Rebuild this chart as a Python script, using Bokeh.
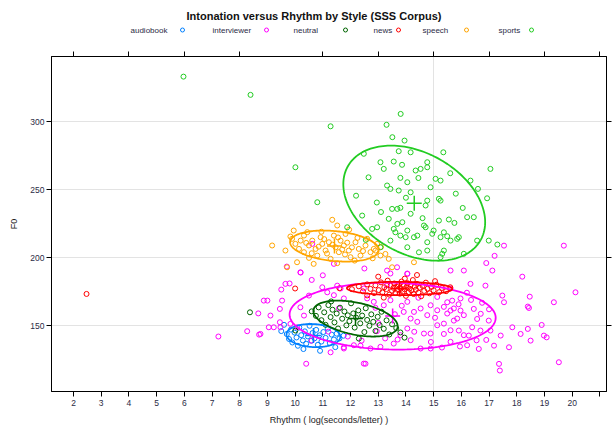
import numpy as np
from bokeh.plotting import figure
from bokeh.layouts import column
from bokeh.models import Range1d, FixedTicker, LinearAxis
from bokeh.core.properties import value
from bokeh.embed import file_html
from bokeh.resources import INLINE

# ---------------- data ----------------
groups = ["audiobook", "interviewer", "neutral", "news", "speech", "sports"]
colors = ["#0080ff", "#ff00ff", "#006400", "#ff0000", "#ffa500", "#22cc22"]

audiobook_pts = [
    (9.70, 143.8), (9.78, 140.2), (9.85, 147.1), (9.90, 137.6), (9.98, 144.9), (10.05, 141.3),
    (10.10, 135.2), (10.15, 148.6), (10.22, 143.0), (10.28, 139.1), (10.35, 145.8), (10.40, 136.7),
    (10.46, 142.1), (10.52, 149.9), (10.58, 138.9), (10.63, 144.6), (10.70, 140.7), (10.76, 146.9),
    (10.82, 135.9), (10.88, 142.9), (10.95, 138.3), (11.02, 145.3), (11.10, 141.0), (11.18, 147.8),
    (11.25, 137.2), (11.32, 143.4), (11.40, 139.8), (11.50, 144.1), (11.60, 140.6), (11.75, 142.6),
    (9.60, 150.6), (10.30, 132.8), (10.90, 131.5), (11.45, 134.2), (9.50, 146.0),
]

interviewer_pts = [
    (7.23, 142.0), (8.27, 145.9), (8.70, 143.4), (8.67, 159.0), (9.00, 168.4), (9.50, 176.5),
    (9.70, 193.4), (10.20, 189.0), (9.80, 181.0), (9.45, 162.3), (9.45, 152.5), (9.23, 148.8),
    (9.05, 148.8), (10.40, 122.0), (12.54, 122.0),
    (16.09, 190.5), (17.12, 190.5), (16.33, 180.7), (16.87, 179.4), (17.48, 172.1), (17.54, 167.2),
    (18.47, 171.3), (18.40, 164.0), (18.44, 163.0), (19.34, 167.2), (20.12, 174.5), (19.70, 208.8),
    (17.54, 208.8), (17.84, 148.8), (18.14, 143.9), (18.40, 147.6), (18.50, 139.0), (18.98, 142.7),
    (19.08, 141.4), (17.42, 142.7), (17.18, 135.3), (17.72, 134.1), (16.63, 132.9), (17.36, 121.9),
    (17.39, 117.0), (19.52, 123.1),
    (15.49, 167.2), (15.67, 168.4), (15.97, 161.1), (16.45, 162.3), (16.57, 154.9), (16.39, 148.8),
    (16.69, 146.4), (16.99, 153.7), (17.05, 146.4), (16.27, 142.7), (15.61, 161.1), (15.73, 153.7),
    (15.91, 146.4), (15.37, 143.9), (15.61, 190.5),
    (11.40, 172.4), (11.64, 177.3), (11.76, 170.0), (12.60, 170.0), (12.84, 167.5), (13.20, 165.0),
    (13.44, 168.7), (14.05, 167.5), (14.29, 160.1), (14.53, 162.6), (14.77, 157.7), (14.89, 165.0),
    (15.13, 161.3), (15.37, 163.8), (15.49, 158.9), (15.73, 162.6), (15.97, 170.0), (15.85, 155.2),
    (16.09, 157.7), (15.37, 151.5), (15.61, 146.6), (14.89, 144.2), (15.13, 150.3), (14.65, 144.2),
    (14.17, 139.3), (13.80, 143.0), (13.56, 136.8), (13.08, 134.4), (12.72, 133.2), (14.05, 147.9),
    (14.41, 152.8), (14.53, 133.2), (14.89, 133.2), (12.48, 122.1), (12.12, 135.6), (11.76, 133.2),
    (13.92, 160.1), (14.17, 155.2), (15.61, 138.1), (16.09, 143.0), (16.21, 135.6), (13.44, 188.3),
    (14.05, 188.3), (13.32, 179.7), (12.48, 177.3), (11.58, 162.6), (15.13, 171.1), (15.61, 177.3),
    (10.19, 189.2), (9.65, 180.7), (10.62, 210.1), (8.87, 168.4), (9.11, 157.4), (9.53, 168.4),
    (10.19, 163.5), (10.32, 157.4), (10.50, 172.1), (11.16, 174.5), (10.98, 178.2), (11.52, 179.4),
    (10.07, 148.8), (9.47, 148.8), (9.83, 151.3), (8.75, 143.9), (11.28, 130.4), (11.76, 134.1),
    (12.36, 135.3), (13.32, 190.5), (14.05, 188.0), (13.68, 192.9), (11.40, 195.4),
    (12.90, 163.1), (13.60, 158.4), (13.00, 152.0), (14.30, 145.5), (13.70, 139.8), (12.40, 139.0),
    (11.90, 142.0), (14.90, 138.0), (15.90, 165.7), (16.70, 158.7), (15.30, 133.9), (16.90, 139.5),
    (17.00, 162.0), (11.20, 145.6), (10.60, 139.0), (18.20, 186.0), (18.90, 150.5), (16.90, 196.0),
    (17.20, 201.3), (12.50, 192.0), (11.00, 187.0), (10.60, 183.6),
    (16.20, 174.2), (16.75, 166.8), (15.05, 155.8), (14.45, 170.5), (13.85, 164.6), (16.55, 139.2),
    (15.95, 134.7), (13.25, 140.6), (12.95, 145.9), (16.35, 168.9),
]

neutral_pts = [
    (10.60, 160.5), (10.75, 157.2), (10.85, 163.4), (10.95, 154.0), (11.05, 159.8), (11.10, 150.6),
    (11.20, 165.1), (11.28, 156.3), (11.35, 161.7), (11.42, 152.4), (11.50, 158.9), (11.55, 147.9),
    (11.62, 163.2), (11.70, 155.1), (11.78, 160.4), (11.85, 150.2), (11.90, 157.6), (11.96, 153.3),
    (12.02, 166.4), (12.10, 159.0), (12.15, 148.6), (12.20, 155.9), (12.28, 161.2), (12.35, 151.7),
    (12.42, 157.4), (12.50, 145.3), (12.55, 162.8), (12.60, 154.2), (12.68, 149.9), (12.75, 158.3),
    (12.82, 152.8), (12.90, 146.1), (12.98, 156.5), (13.05, 150.4), (13.12, 160.2), (13.20, 147.7),
    (13.30, 153.9), (13.40, 143.5), (13.50, 151.0), (13.65, 148.2), (13.80, 145.0), (13.95, 141.2),
    (10.01, 146.4), (8.37, 159.8), (11.30, 167.8), (12.30, 140.5),
]

news_pts = [
    (12.05, 176.8), (12.30, 178.9), (12.45, 175.2), (12.60, 180.3), (12.72, 177.0), (12.85, 173.9),
    (12.90, 179.6), (13.02, 176.1), (13.10, 181.8), (13.15, 174.4), (13.22, 178.2), (13.30, 176.9),
    (13.34, 183.1), (13.40, 172.8), (13.45, 179.4), (13.50, 175.6), (13.55, 177.8), (13.58, 181.0),
    (13.62, 174.1), (13.66, 178.8), (13.70, 176.3), (13.74, 180.2), (13.78, 173.5), (13.80, 177.6),
    (13.84, 182.4), (13.88, 175.0), (13.92, 179.1), (13.95, 176.8), (14.00, 171.9), (14.02, 178.3),
    (14.06, 181.2), (14.10, 174.7), (14.13, 177.2), (14.17, 179.9), (14.20, 175.9), (14.25, 183.5),
    (14.28, 173.2), (14.32, 178.6), (14.36, 176.4), (14.40, 180.7), (14.45, 174.3), (14.50, 177.9),
    (14.55, 171.6), (14.60, 179.3), (14.66, 175.5), (14.72, 181.6), (14.78, 177.1), (14.85, 173.8),
    (14.92, 178.5), (15.00, 176.0), (15.10, 180.1), (15.20, 174.6), (15.30, 177.7), (15.45, 175.3),
    (15.60, 178.2), (13.20, 170.6), (13.96, 184.6), (12.60, 172.2), (15.05, 182.7), (11.60, 177.5),
    (10.00, 177.3), (2.47, 173.3), (13.00, 186.0), (14.40, 187.2),
]

speech_pts = [
    (9.17, 208.9), (9.65, 205.2), (9.89, 213.8), (10.01, 210.1), (10.14, 206.4), (10.20, 212.5),
    (10.32, 216.2), (10.32, 204.0), (10.44, 218.7), (10.50, 208.9), (10.62, 212.5), (10.74, 206.4),
    (10.80, 201.5), (10.92, 215.0), (10.98, 210.1), (11.10, 205.2), (11.22, 211.3), (11.28, 199.1),
    (11.40, 216.2), (11.46, 207.6), (11.58, 204.0), (11.64, 212.5), (11.76, 208.9), (11.82, 217.4),
    (11.94, 205.2), (12.00, 200.3), (12.18, 211.3), (12.30, 206.4), (12.36, 201.5), (12.54, 208.9),
    (12.60, 213.8), (12.72, 204.0), (12.84, 206.4), (12.96, 210.1), (13.08, 201.5), (13.26, 202.7),
    (13.38, 199.1), (10.26, 225.3), (9.95, 219.9), (11.34, 227.8), (11.52, 223.6), (9.83, 215.5),
    (14.29, 196.6), (13.50, 192.9), (12.90, 205.2), (9.71, 192.9), (10.07, 196.6), (10.67, 195.4),
    (11.52, 195.9), (10.40, 210.8), (10.85, 208.0), (11.05, 213.6), (11.15, 203.0), (11.35, 209.5),
    (11.55, 214.8), (11.70, 206.0), (11.88, 211.0), (12.05, 207.5), (12.25, 214.5), (12.45, 204.8),
    (10.60, 203.2), (10.95, 219.0), (11.95, 220.5), (12.80, 199.5), (12.15, 197.8), (10.50, 199.8),
    (11.80, 202.3), (13.10, 207.8),
]

sports_pts = [
    (5.97, 333.0), (8.39, 319.6), (11.28, 296.5), (10.01, 266.4), (10.80, 240.7),
    (13.81, 305.6), (13.30, 297.6), (13.51, 288.5), (13.95, 286.0), (12.48, 276.3),
    (13.74, 278.2), (14.17, 277.4), (15.35, 277.4), (13.08, 270.1), (13.56, 270.6),
    (13.86, 268.2), (14.77, 270.1), (14.35, 264.0), (14.53, 265.2), (14.77, 266.4),
    (13.20, 265.2), (17.05, 265.2), (13.80, 258.6), (14.05, 255.4), (15.07, 257.9),
    (15.25, 256.6), (16.33, 256.6), (13.32, 253.0), (13.44, 250.5), (13.74, 249.3),
    (14.17, 248.0), (14.89, 251.7), (15.19, 243.2), (15.25, 241.9), (14.77, 241.9),
    (14.71, 238.3), (13.50, 235.8), (13.69, 235.8), (13.80, 236.6), (16.93, 243.6),
    (12.42, 230.9), (13.38, 228.5), (14.17, 232.2), (15.19, 227.2), (15.55, 228.0),
    (16.21, 229.7), (16.45, 229.7), (13.69, 224.8), (13.87, 226.0), (14.71, 222.3),
    (15.00, 219.9), (14.95, 217.5), (12.78, 221.1), (12.96, 222.3), (13.62, 218.6),
    (13.80, 216.2), (13.99, 215.0), (14.29, 215.0), (14.41, 216.2), (15.25, 215.0),
    (15.49, 215.7), (15.85, 213.8), (16.99, 212.5), (13.44, 212.5), (14.77, 211.3),
    (15.37, 205.2), (14.05, 207.6), (14.47, 203.9), (14.77, 205.2), (11.88, 222.3),
    (16.57, 212.5), (17.30, 209.6), (13.08, 207.6), (15.25, 200.3), (16.09, 202.8),
    (13.56, 221.1), (14.05, 219.9), (14.65, 223.6), (15.37, 218.6), (15.61, 212.5),
    (15.91, 215.0), (15.31, 202.8), (12.20, 245.5), (12.65, 259.0), (15.80, 247.0),
    (16.05, 236.5), (14.45, 258.5), (15.60, 262.0), (14.00, 244.0), (12.95, 240.5),
    (14.60, 229.0), (13.10, 233.5), (12.55, 213.0), (15.75, 225.5), (16.60, 250.5),
]

# data-ellipse parameters per group (centre, half-extent in x and y, correlation)
ell_cx = [10.66, 13.52, 12.18, 13.77, 11.42, 14.30]
ell_cy = [142.7, 157.0, 155.2, 177.3, 208.5, 240.0]
ell_ax = [0.97, 3.72, 1.52, 1.90, 1.60, 2.56]
ell_ay = [8.5, 24.6, 13.2, 4.9, 11.4, 42.3]
ell_r = [-0.10, -0.05, -0.42, -0.05, -0.25, -0.33]

x_ticks = list(range(2, 22))
x_tick_labels = [str(v) for v in range(2, 21)] + [""]
x_top_ticks = [2, 4, 6, 8, 11, 13, 15, 17, 19, 21]
y_ticks = [150, 200, 250, 300]

title_text = "Intonation versus Rhythm  by Style (SSS Corpus)"
x_label = "Rhythm ( log(seconds/letter) )"
y_label = "F0"

FONT = "Liberation Sans"
TICK_COL = "#2b2b45"
FRAME_L, FRAME_R = 51, 606      # panel frame edges on the page (px)
W, H = 616, 430

# ---------------- header (title and key), page-pixel coordinates ----------------
HEAD_H = 44
head = figure(width=W, height=HEAD_H, x_range=Range1d(FRAME_L, FRAME_R),
              y_range=Range1d(HEAD_H, 0),
              output_backend="svg", toolbar_location=None, x_axis_type=None, y_axis_type=None,
              min_border_left=FRAME_L, min_border_right=W - FRAME_R,
              min_border_top=0, min_border_bottom=0, outline_line_color=None)
head.grid.visible = False
head.background_fill_color = "white"
head.border_fill_color = "white"

head.text(x=[315], y=[15], text=[title_text], text_align="center", text_baseline="middle",
          text_font=value(FONT), text_font_style="bold", text_font_size="11px",
          text_color="#111111")

key_text_x = [130, 212, 293, 373, 422, 498]
key_sym_x = [182, 266, 345, 398, 466, 531]
head.text(x=key_text_x, y=[30] * len(groups), text=groups, text_align="left",
          text_baseline="middle", text_font=value(FONT), text_font_size="8px",
          text_color=TICK_COL)
head.scatter(x=key_sym_x, y=[29.5] * len(groups), marker="circle", size=4,
             fill_color=None, line_color=colors, line_width=1)

# ---------------- main panel ----------------
p = figure(width=W, height=H - HEAD_H,
           x_range=Range1d(1.206, 21.24), y_range=Range1d(101.6, 347.8),
           output_backend="svg", toolbar_location=None,
           min_border_left=FRAME_L, min_border_right=W - FRAME_R, min_border_top=56 - HEAD_H,
           min_border_bottom=39)
p.outline_line_color = "black"
p.outline_line_width = 1
p.background_fill_color = "white"
p.border_fill_color = "white"

p.xgrid.ticker = FixedTicker(ticks=[15])
p.ygrid.ticker = FixedTicker(ticks=y_ticks)
for g in (p.xgrid[0], p.ygrid[0]):
    g.grid_line_color = "#e3e3e3"
    g.grid_line_width = 1


def style_axis(ax, show_labels):
    ax.axis_line_color = "black"
    ax.major_tick_line_color = "black"
    ax.major_tick_in = 0
    ax.major_tick_out = 5
    ax.minor_tick_line_color = None
    ax.major_label_text_font = FONT
    ax.major_label_text_font_size = "8.5px"
    ax.major_label_text_color = TICK_COL
    ax.major_label_standoff = 3
    ax.axis_label_text_font = FONT
    ax.axis_label_text_font_style = "normal"
    ax.axis_label_text_font_size = "9px"
    ax.axis_label_text_color = "#222222"
    if not show_labels:
        ax.major_label_text_alpha = 0
        ax.major_label_standoff = 0


xb = p.below[0]
xb.ticker = FixedTicker(ticks=x_ticks)
xb.major_label_overrides = {t: l for t, l in zip(x_ticks, x_tick_labels)}
style_axis(xb, True)
xb.axis_label = x_label
xb.axis_label_standoff = 6

yl = p.left[0]
yl.ticker = FixedTicker(ticks=y_ticks)
style_axis(yl, True)
yl.major_label_standoff = 2
yl.axis_label = y_label
yl.axis_label_standoff = 8

xt = LinearAxis(ticker=FixedTicker(ticks=x_top_ticks))
xt.major_label_overrides = {t: "" for t in x_top_ticks}
style_axis(xt, False)
p.add_layout(xt, "above")

yr = LinearAxis(ticker=FixedTicker(ticks=y_ticks))
yr.major_label_overrides = {t: "" for t in y_ticks}
style_axis(yr, False)
p.add_layout(yr, "right")

all_pts = [audiobook_pts, interviewer_pts, neutral_pts, news_pts, speech_pts, sports_pts]

# points
for pts, col in zip(all_pts, colors):
    xs = [a for a, b in pts]
    ys = [b for a, b in pts]
    p.scatter(xs, ys, marker="circle", size=5, fill_color=None,
              line_color=col, line_width=1)

# data ellipses and their centres
t = np.linspace(0, 2 * np.pi, 181)
for cx, cy, ax_, ay_, r, col in zip(ell_cx, ell_cy, ell_ax, ell_ay, ell_r, colors):
    ex = cx + ax_ * np.cos(t)
    ey = cy + ay_ * np.cos(t - np.arccos(r))
    p.line(ex, ey, line_color=col, line_width=1.8)
    p.scatter([cx], [cy], marker="cross", size=15, line_color=col, line_width=1.5)

layout = column(head, p, spacing=0)
open("out.html", "w").write(file_html(layout, INLINE))
